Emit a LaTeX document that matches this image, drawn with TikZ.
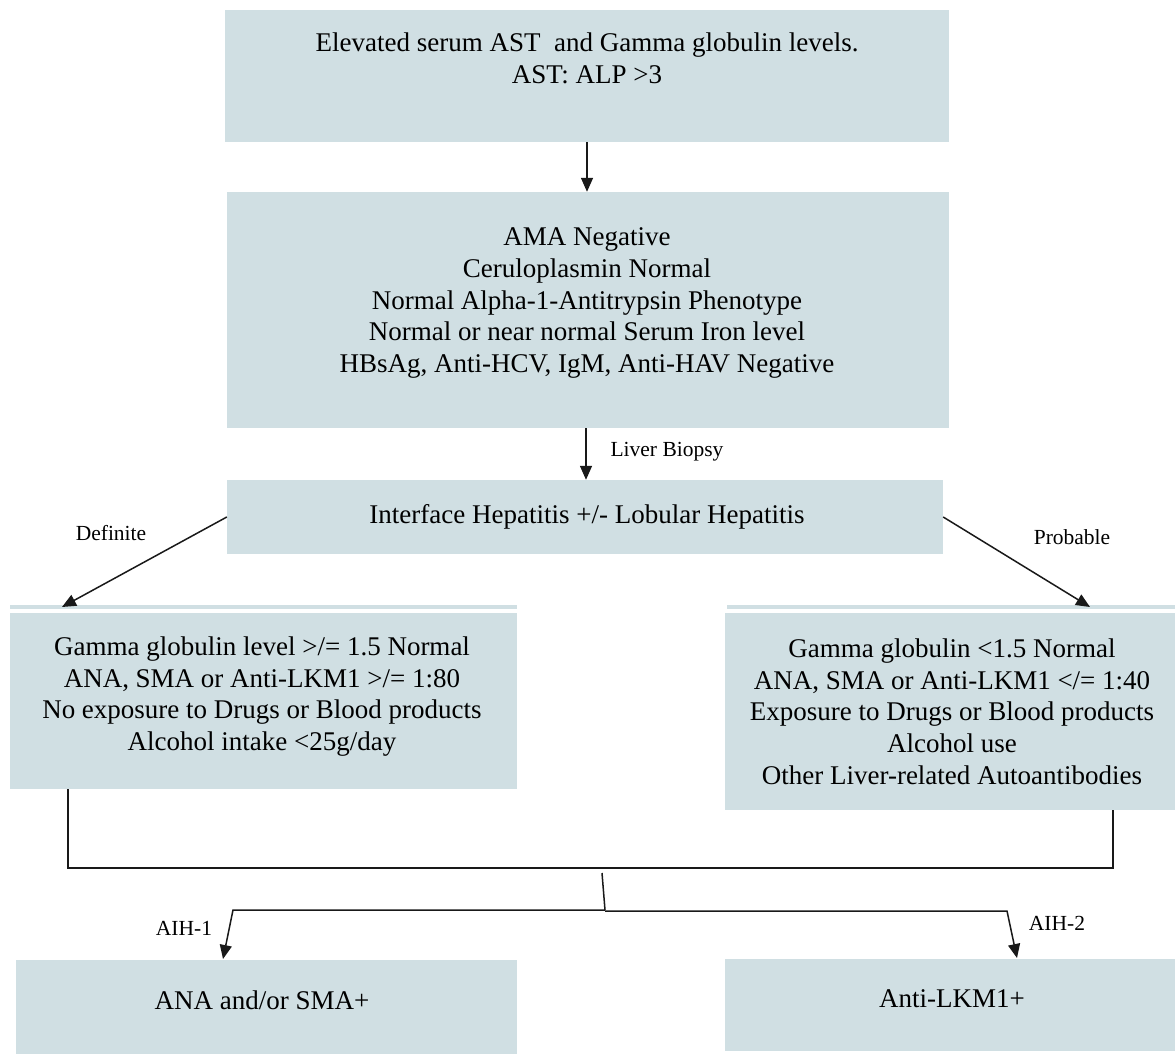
\documentclass[tikz,border=0pt]{standalone}
\usepackage{fontspec}
\setmainfont{Liberation Serif}
\usetikzlibrary{arrows.meta,calc}
\definecolor{boxfill}{RGB}{208,223,227}
\definecolor{ink}{RGB}{25,25,25}
\begin{document}
\begin{tikzpicture}[x=1pt,y=-1pt,
  box/.style={fill=boxfill, draw=none, inner sep=0pt},
  txt/.style={align=center, font=\fontsize{27}{31.7}\selectfont, inner sep=0pt, text=black},
  lbl/.style={font=\fontsize{21.5}{25}\selectfont, inner sep=0pt, text=black},
  arr/.style={draw=ink, line width=1.5pt, -{Triangle[length=14pt,width=12pt]}},
  ln/.style={draw=ink, line width=1.5pt}]
\useasboundingbox (0,0) rectangle (1175,1054);
% boxes
\node[box, minimum width=724pt, minimum height=132pt] (b1) at (587,76) {};
\node[box, minimum width=722pt, minimum height=236pt] (b2) at (588,310) {};
\node[box, minimum width=716pt, minimum height=74pt] (b3) at (585,517) {};
\node[box, minimum width=507pt, minimum height=176pt] (lb) at (263.5,701) {};
\node[box, minimum width=450pt, minimum height=197pt] (rb) at (950,711.5) {};
\node[box, minimum width=501pt, minimum height=94pt] (bl) at (266.5,1007) {};
\node[box, minimum width=450pt, minimum height=92pt] (br) at (950,1005) {};
% thin strips above the two middle boxes
\fill[boxfill] (10,605) rectangle (517,608.5);
\fill[boxfill] (727,605) rectangle (1175,608.5);
% texts
\node[txt] (t1) at (587,58) {Elevated serum AST\ \ and Gamma globulin levels.\\AST: ALP >3};
\node[txt] (t2) at (587,303) {AMA Negative\\Ceruloplasmin Normal\\Normal Alpha-1-Antitrypsin Phenotype\\Normal or near normal Serum Iron level\\HBsAg, Anti-HCV, IgM, Anti-HAV Negative};
\node[txt] (t3) at (587,517) {Interface Hepatitis +/- Lobular Hepatitis};
\node[txt] (tl) at (262,696.5) {Gamma globulin level >/= 1.5 Normal\\ANA, SMA or Anti-LKM1 >/= 1:80\\No exposure to Drugs or Blood products\\Alcohol intake <25g/day};
\node[txt] (tr) at (952,711.5) {Gamma globulin <1.5 Normal\\ANA, SMA or Anti-LKM1 </= 1:40\\Exposure to Drugs or Blood products\\Alcohol use\\Other Liver-related Autoantibodies};
\node[txt] (tbl) at (262,1000) {ANA and/or SMA+};
\node[txt] (tbr) at (952,999) {Anti-LKM1+};
% labels
\node[lbl] (lbio) at (667,452) {Liver Biopsy};
\node[lbl] (ldef) at (111,533) {Definite};
\node[lbl] (lprob) at (1072,537) {Probable};
\node[lbl] (laih1) at (184,928) {AIH-1};
\node[lbl] (laih2) at (1057,923) {AIH-2};
% coordinates
\coordinate (dl) at (62,607);
\coordinate (pr) at (1090,607);
\coordinate (m1) at (68,868);
\coordinate (m2) at (1113,868);
\coordinate (s1) at (602,873);
\coordinate (s2) at (605,910);
\coordinate (s3) at (605,911);
\coordinate (h1) at (233,910);
\coordinate (h2) at (1007,911);
\coordinate (a1) at (223,959);
\coordinate (a2) at (1017,958);
% connectors
\draw[arr] (b1.south) -- (b1.south |- b2.north);
\draw[arr] (b2.south) ++(-2,0) coordinate (b2s) -- (b2s |- b3.north);
\draw[arr] (b3.west) -- (dl);
\draw[arr] (b3.east) -- (pr);
\draw[ln] (lb.south -| m1) -- (m1) -- (m2) -- (rb.south -| m2);
\draw[ln] (s1) -- (s2);
\draw[arr] (s2) -- (h1) -- (a1);
\draw[arr] (s3) -- (h2) -- (a2);
\end{tikzpicture}
\end{document}
